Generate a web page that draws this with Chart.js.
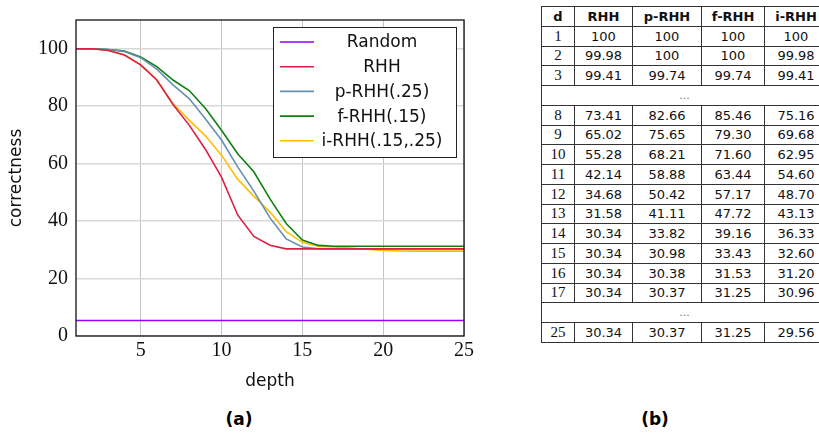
<!DOCTYPE html>
<html>
<head>
<meta charset="utf-8">
<script src="https://cdn.jsdelivr.net/npm/chart.js@4.4.1/dist/chart.umd.min.js"></script>
<style>
  body { margin: 0; width: 819px; height: 437px; overflow: hidden; background: #fff; position: relative; font-family: "DejaVu Sans", sans-serif; }
  #wrap { position: absolute; left: 0; top: 0; width: 480px; height: 400px; }
  table { position: absolute; left: 541px; top: 6px; border-collapse: collapse; table-layout: fixed; width: 286px; font-size: 13px; color: #111; }
  td, th { border: 1px solid #333; padding: 0; text-align: center; height: 18.76px; white-space: nowrap; }
  th { font-weight: bold; }
  td.d { font-family: "Liberation Serif", serif; font-size: 15px; }
  td.gap { color: #777; font-size: 11px; }
  .cap { position: absolute; top: 409px; font-weight: bold; font-size: 17px; transform: translateX(-50%); }
</style>
</head>
<body>
<div id="wrap"><canvas id="myChart" width="480" height="400"></canvas></div>
<table id="tbl"></table>
<div class="cap" style="left:239px">(a)</div>
<div class="cap" style="left:655px">(b)</div>
<script>
// depth values on the x axis
const depths = [1, 2, 3, 4, 5, 6, 7, 8, 9, 10, 11, 12, 13, 14, 15, 16, 17, 18, 19, 20, 21, 22, 23, 24, 25];

// correctness per depth
const randomVals = [5.4, 5.4, 5.4, 5.4, 5.4, 5.4, 5.4, 5.4, 5.4, 5.4, 5.4, 5.4, 5.4, 5.4, 5.4, 5.4, 5.4, 5.4, 5.4, 5.4, 5.4, 5.4, 5.4, 5.4, 5.4];
const rhh  = [100, 99.98, 99.41, 97.8, 94.4, 89.1, 80.6, 73.41, 65.02, 55.28, 42.14, 34.68, 31.58, 30.34, 30.34, 30.34, 30.34, 30.34, 30.34, 30.34, 30.34, 30.34, 30.34, 30.34, 30.34];
const prhh = [100, 100, 99.74, 99.0, 96.9, 92.9, 87.4, 82.66, 75.65, 68.21, 58.88, 50.42, 41.11, 33.82, 30.98, 30.38, 30.37, 30.37, 30.37, 30.37, 30.37, 30.37, 30.37, 30.37, 30.37];
const frhh = [100, 100, 99.74, 99.2, 97.1, 93.8, 89.1, 85.46, 79.30, 71.60, 63.44, 57.17, 47.72, 39.16, 33.43, 31.53, 31.25, 31.25, 31.25, 31.25, 31.25, 31.25, 31.25, 31.25, 31.25];
const irhh = [100, 99.98, 99.41, 97.8, 94.4, 89.1, 80.9, 75.16, 69.68, 62.95, 54.60, 48.70, 43.13, 36.33, 32.60, 31.20, 30.96, 30.6, 30.2, 29.8, 29.6, 29.56, 29.56, 29.56, 29.56];

const seriesLabels = ['Random', 'RHH', 'p-RHH(.25)', 'f-RHH(.15)', 'i-RHH(.15,.25)'];
const tableHeaders = ['d', 'RHH', 'p-RHH', 'f-RHH', 'i-RHH'];
// depths listed in the table, '...' marks skipped rows
const tableRows = [1, 2, 3, '...', 8, 9, 10, 11, 12, 13, 14, 15, 16, 17, '...', 25];

const toPoints = vals => vals.map((v, i) => ({ x: depths[i], y: v }));

// legend box + plot frame
const frameLegend = {
  id: 'frameLegend',
  afterDatasetsDraw(chart) {
    const { ctx, chartArea } = chart;
    ctx.save();
    ctx.strokeStyle = '#111';
    ctx.lineWidth = 1.3;
    ctx.strokeRect(chartArea.left, chartArea.top, chartArea.right - chartArea.left, chartArea.bottom - chartArea.top);

    const w = 183, h = 130;
    const x0 = Math.round(chartArea.right - 8 - w), y0 = Math.round(chartArea.top + 7);
    ctx.fillStyle = '#fff';
    ctx.fillRect(x0, y0, w, h);
    ctx.lineWidth = 1;
    ctx.strokeStyle = '#222';
    ctx.strokeRect(x0 + 0.5, y0 + 0.5, w, h);
    ctx.font = '17px "DejaVu Sans"';
    ctx.textAlign = 'center';
    ctx.textBaseline = 'middle';
    chart.data.datasets.forEach((ds, i) => {
      const y = y0 + 15 + i * 24.7;
      ctx.strokeStyle = ds.borderColor;
      ctx.lineWidth = 1.6;
      ctx.beginPath();
      ctx.moveTo(x0 + 7, y);
      ctx.lineTo(x0 + 41, y);
      ctx.stroke();
      ctx.fillStyle = '#111';
      ctx.fillText(ds.label, x0 + 109, y + 1);
    });
    ctx.restore();
  }
};

const ctx = document.getElementById('myChart').getContext('2d');
new Chart(ctx, {
  type: 'line',
  data: {
    datasets: [
      { label: seriesLabels[0], data: toPoints(randomVals), borderColor: '#8f00ff' },
      { label: seriesLabels[1], data: toPoints(rhh), borderColor: '#dc1e46' },
      { label: seriesLabels[2], data: toPoints(prhh), borderColor: '#6590b0' },
      { label: seriesLabels[3], data: toPoints(frhh), borderColor: '#0f800f' },
      { label: seriesLabels[4], data: toPoints(irhh), borderColor: '#ffbf00' }
    ]
  },
  options: {
    responsive: false,
    animation: false,
    devicePixelRatio: 1,
    layout: { padding: { top: 13, right: 16, left: 0, bottom: 0 } },
    elements: {
      point: { radius: 0 },
      line: { borderWidth: 1.6, tension: 0 }
    },
    plugins: { legend: { display: false }, tooltip: { enabled: false } },
    scales: {
      x: {
        type: 'linear', min: 1, max: 25,
        ticks: { stepSize: 5, includeBounds: false, padding: 3, maxRotation: 0, color: '#111', font: { family: '"Liberation Serif"', size: 20 } },
        grid: { color: '#c4c4c4', drawTicks: false },
        border: { display: false },
        title: { display: true, text: 'depth', color: '#111', font: { family: '"DejaVu Sans"', size: 17 }, padding: { top: 0, bottom: 8 } },
        afterFit: s => { s.height = 64; }
      },
      y: {
        min: 0, max: 110,
        ticks: { stepSize: 20, includeBounds: false, padding: 8, color: '#111', font: { family: '"Liberation Serif"', size: 20 } },
        grid: { color: '#d8d8d8', lineWidth: 1.5, drawTicks: false },
        border: { display: false },
        title: { display: true, text: 'correctness', color: '#111', font: { family: '"DejaVu Sans"', size: 17 }, padding: { top: 6, bottom: 0 } },
        afterFit: s => { s.width = 76; }
      }
    }
  },
  plugins: [frameLegend]
});

// table (b), built from the same series
const fmt = v => (v === 100 ? '100' : v.toFixed(2));
const cols = [rhh, prhh, frhh, irhh];
const tbl = document.getElementById('tbl');
let html = '<colgroup><col style="width:33px"><col style="width:58px"><col style="width:69px"><col style="width:63px"><col style="width:63px"></colgroup>';
html += '<tr>' + tableHeaders.map(h => '<th>' + h + '</th>').join('') + '</tr>';
tableRows.forEach(d => {
  if (d === '...') {
    html += '<tr><td class="gap" colspan="5">...</td></tr>';
  } else {
    const i = depths.indexOf(d);
    html += '<tr><td class="d">' + d + '</td>' + cols.map(c => '<td>' + fmt(c[i]) + '</td>').join('') + '</tr>';
  }
});
tbl.innerHTML = html;
</script>
</body>
</html>
